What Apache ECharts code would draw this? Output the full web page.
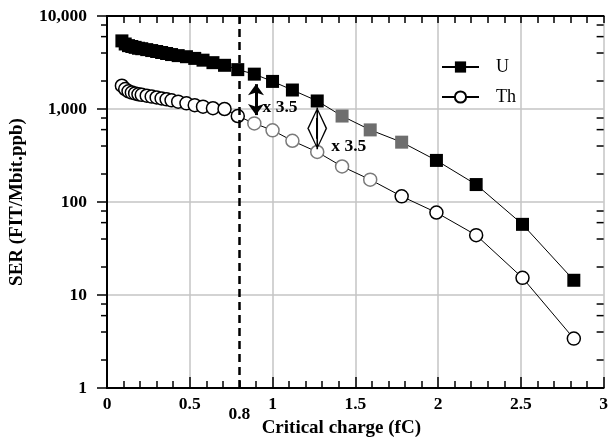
<!DOCTYPE html>
<html>
<head>
<meta charset="utf-8">
<script src="https://cdn.jsdelivr.net/npm/echarts@6/dist/echarts.min.js"></script>
<style>
  html, body { margin: 0; padding: 0; background: #fff; }
  #chart { width: 611px; height: 443px; }
</style>
</head>
<body>
<div id="chart"></div>
<script>
// critical charge (fC), shared by both series
const qcrit = [0.09, 0.11, 0.13, 0.15, 0.17, 0.19, 0.21, 0.24, 0.27, 0.30,
  0.33, 0.36, 0.39, 0.43, 0.48, 0.53, 0.58, 0.64, 0.71, 0.79,
  0.89, 1.0, 1.12, 1.27, 1.42, 1.59, 1.78, 1.99, 2.23, 2.51, 2.82]

const serU = [5400, 5000, 4800, 4700, 4600, 4500, 4450, 4350, 4250, 4150,
  4050, 3950, 3850, 3750, 3650, 3500, 3350, 3150, 2950, 2650,
  2370, 1980, 1600, 1220, 840, 596, 440, 280, 154, 57.5, 14.4]

const serTh = [1780, 1640, 1550, 1500, 1470, 1440, 1420, 1390, 1360, 1330,
  1300, 1270, 1240, 1200, 1150, 1100, 1060, 1020, 1000, 840,
  700, 590, 455, 345, 241, 174, 115, 77, 44, 15.3, 3.4]

// points drawn in grey in the figure
const greyU = [1.42, 1.59, 1.78]
const greyTh = [0.89, 1.0, 1.12, 1.27, 1.42, 1.59]

const xTicks = ['0', '0.5', '1', '1.5', '2', '2.5', '3']
const yTicks = ['1', '10', '100', '1,000', '10,000']
const yMinor = [2, 4, 6, 8, 20, 40, 60, 80, 200, 400, 600, 800, 2000, 4000, 6000, 8000]

// annotation arrows: [x, upper, lower]
const arrowSolid = [0.9, 1850, 860]
const arrowOpen = [1.27, 800, 478]
const ratioLabels = [[0.94, 1040], [1.355, 400]]

const serif = 'Liberation Serif, Times New Roman, DejaVu Serif, serif'
const chart = echarts.init(document.getElementById('chart'))

const uData = qcrit.map((x, i) => ({
  value: [x, serU[i]],
  itemStyle: greyU.includes(x) ? { color: '#6e6e6e' } : undefined
}))
const thData = qcrit.map((x, i) => ({
  value: [x, serTh[i]],
  itemStyle: greyTh.includes(x) ? { borderColor: '#7a7a7a' } : undefined
}))

// open arrow head with a centre spine
const openHead = 'path://M0,20 L5,0 L10,20 L9.2,20 L5,2.5 L0.8,20 Z M4.6,0 L5.4,0 L5.4,20 L4.6,20 Z'

const option = {
  animation: false,
  grid: { left: 107, right: 2, top: 16, bottom: 53 },
  legend: {
    data: ['U', 'Th'],
    orient: 'vertical',
    left: 436,
    top: 53,
    itemWidth: 37,
    itemHeight: 14,
    itemGap: 12,
    textStyle: { fontFamily: serif, fontSize: 18, lineHeight: 14, color: '#000', padding: [0, 0, 0, 12] }
  },
  xAxis: [
    {
      type: 'value', min: 0, max: 3, interval: 0.5,
      name: 'Critical charge (fC)', nameLocation: 'middle', nameGap: 31,
      nameTextStyle: { fontFamily: serif, fontSize: 19, fontWeight: 'bold', color: '#000', padding: [0, 28, 0, 0] },
      axisLine: { lineStyle: { color: '#000', width: 2 } },
      axisTick: { inside: true, length: 11, lineStyle: { color: '#000', width: 1.5 } },
      minorTick: { show: true, splitNumber: 5, length: 7, lineStyle: { color: '#000', width: 1.5 } },
      axisLabel: {
        margin: 7, fontFamily: serif, fontSize: 17.5, fontWeight: 'bold', color: '#000',
        formatter: v => xTicks[Math.round(v * 2)]
      },
      splitLine: { show: true, lineStyle: { color: '#c4c4c4', width: 1.5 } }
    },
    {
      type: 'value', min: 0, max: 3, interval: 0.5, position: 'top',
      axisLine: { lineStyle: { color: '#000', width: 2 } },
      axisTick: { inside: true, length: 7, lineStyle: { color: '#000', width: 1.5 } },
      minorTick: { show: true, splitNumber: 5, length: 7, lineStyle: { color: '#000', width: 1.5 } },
      axisLabel: { show: false },
      splitLine: { show: false }
    }
  ],
  yAxis: [
    {
      type: 'log', logBase: 10, min: 1, max: 10000,
      name: 'SER (FIT/Mbit.ppb)', nameLocation: 'middle', nameGap: 80,
      nameTextStyle: { fontFamily: serif, fontSize: 19, fontWeight: 'bold', color: '#000' },
      axisLine: { lineStyle: { color: '#000', width: 2 } },
      axisTick: { inside: false, length: 10, lineStyle: { color: '#000', width: 1.5 } },
      axisLabel: {
        margin: 20, fontFamily: serif, fontSize: 17.5, fontWeight: 'bold', color: '#000',
        formatter: v => yTicks[Math.round(Math.log10(v))]
      },
      splitLine: { show: true, lineStyle: { color: '#c4c4c4', width: 1.5 } }
    },
    {
      type: 'log', logBase: 10, min: 1, max: 10000, position: 'right',
      axisLine: { show: true, lineStyle: { color: '#000', width: 2 } },
      axisTick: { show: true, inside: true, length: 10, lineStyle: { color: '#000', width: 1.5 } },
      axisLabel: { show: false },
      splitLine: { show: false }
    }
  ],
  series: [
    {
      name: 'minor',
      type: 'custom',
      silent: true,
      clip: false,
      data: yMinor.map(v => [0, v]),
      renderItem: (params, api) => {
        const v = api.value(1)
        const l = api.coord([0, v])
        const r = api.coord([3, v])
        const st = { stroke: '#000', lineWidth: 1.5 }
        return {
          type: 'group',
          children: [
            { type: 'line', shape: { x1: l[0] - 6, y1: l[1], x2: l[0], y2: l[1] }, style: st },
            { type: 'line', shape: { x1: r[0] - 7, y1: r[1], x2: r[0], y2: r[1] }, style: st }
          ]
        }
      }
    },
    {
      name: 'Th',
      type: 'line',
      data: thData,
      symbol: 'circle',
      symbolSize: 13,
      z: 3,
      lineStyle: { color: '#000', width: 1 },
      itemStyle: { color: '#fff', borderColor: '#000', borderWidth: 1.5 },
      markLine: {
        silent: true,
        symbol: ['none', 'none'],
        animation: false,
        lineStyle: { color: '#000', type: [8, 5], width: 2.5 },
        label: {
          show: true, position: 'start', distance: 17,
          formatter: '0.8', fontFamily: serif, fontSize: 17.5, fontWeight: 'bold', color: '#000'
        },
        data: [{ xAxis: 0.8 }]
      }
    },
    {
      name: 'U',
      type: 'line',
      data: uData,
      symbol: 'rect',
      symbolSize: 13,
      z: 4,
      lineStyle: { color: '#000', width: 1 },
      itemStyle: { color: '#000' },
      markLine: {
        silent: true,
        animation: false,
        label: { show: false },
        data: [
          [
            { coord: [arrowSolid[0], arrowSolid[1]], symbol: 'arrow', symbolSize: [12, 11] },
            { coord: [arrowSolid[0], arrowSolid[2]], symbol: 'arrow', symbolSize: [12, 11],
              lineStyle: { color: '#000', width: 3, type: 'solid' } }
          ],
          [
            { coord: [arrowOpen[0], arrowOpen[1]], symbol: openHead, symbolSize: [20, 21] },
            { coord: [arrowOpen[0], arrowOpen[2]], symbol: openHead, symbolSize: [20, 21],
              lineStyle: { color: '#000', width: 2, type: 'solid' } }
          ]
        ],
        lineStyle: { color: '#000', width: 2.5, type: 'solid' }
      },
      markPoint: {
        silent: true,
        symbol: 'circle',
        symbolSize: 0,
        label: {
          show: true, position: 'right', distance: 0,
          formatter: 'x 3.5', fontFamily: serif, fontSize: 17.5, fontWeight: 'bold', color: '#000'
        },
        data: ratioLabels.map(c => ({ coord: c }))
      }
    }
  ]
}

chart.setOption(option)
</script>
</body>
</html>
